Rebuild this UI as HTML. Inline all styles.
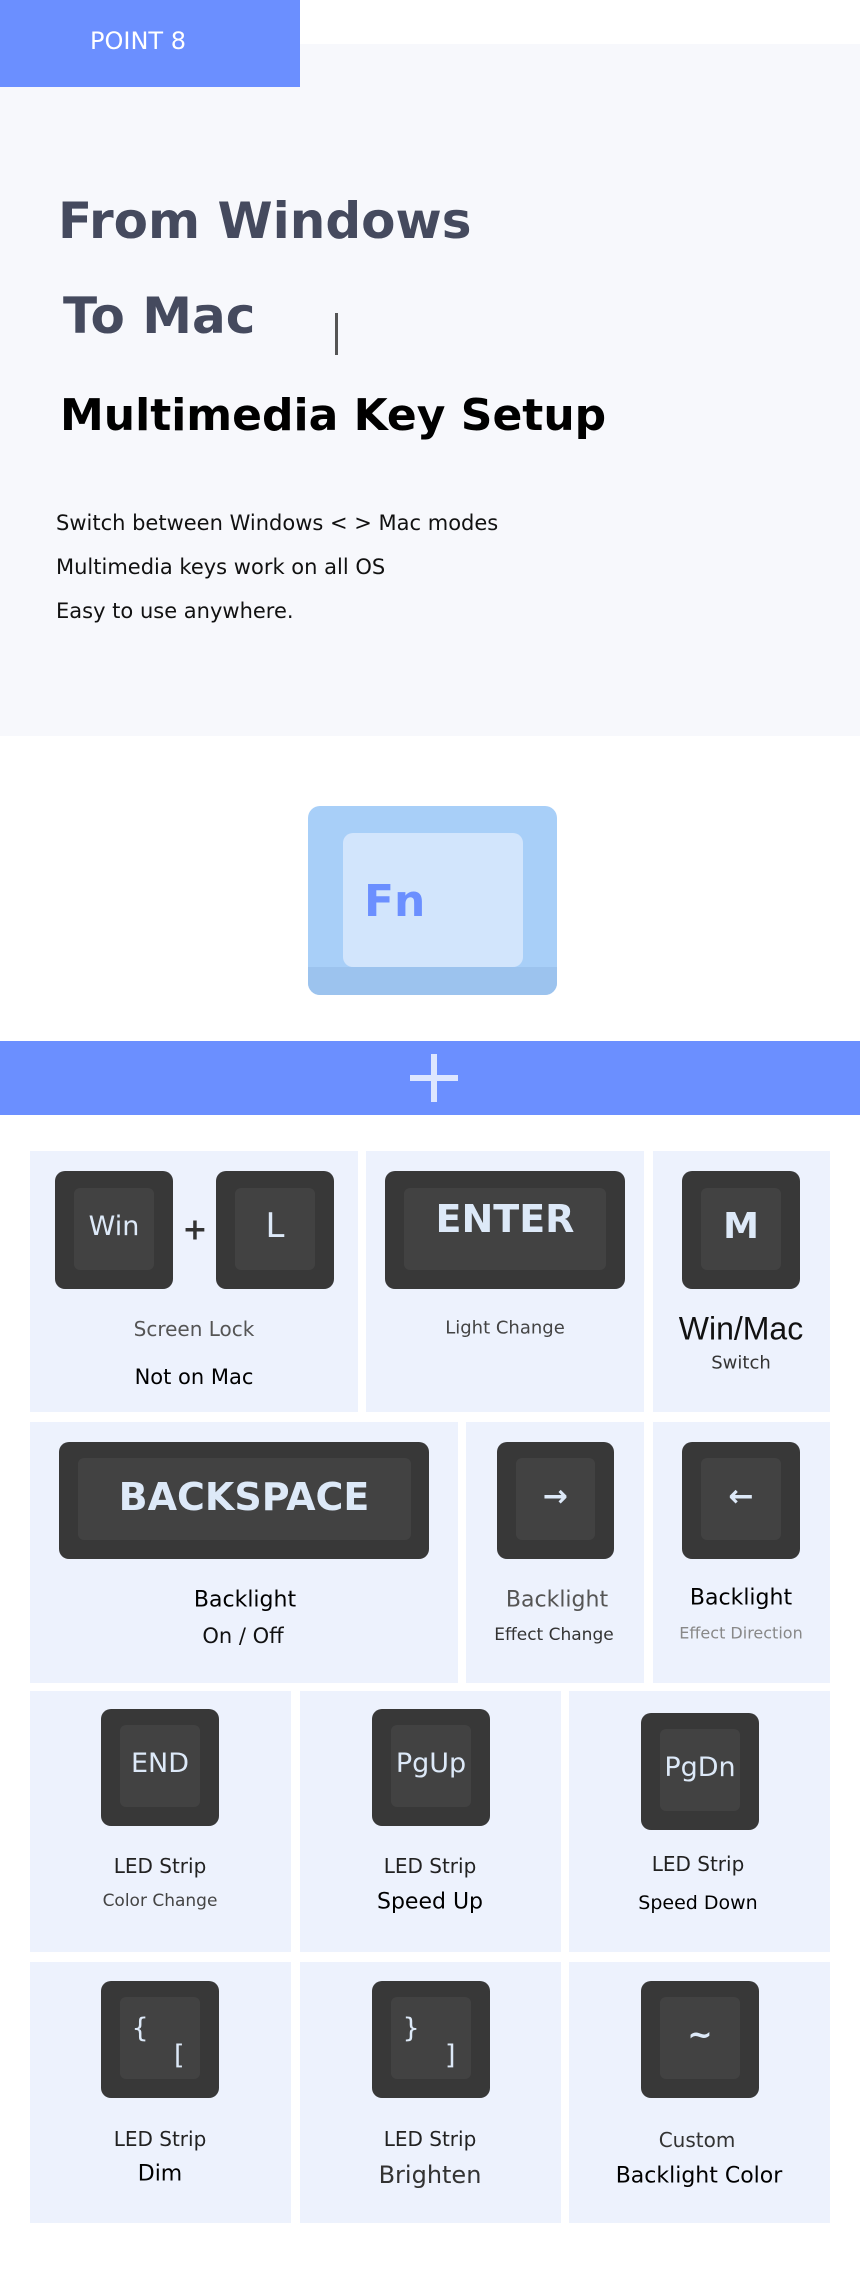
<!DOCTYPE html>
<html><head><meta charset="utf-8"><style>
*{margin:0;padding:0;box-sizing:border-box}
body{width:860px;height:2270px;background:#fff;position:relative;overflow:hidden;font-family:"DejaVu Sans","Liberation Sans",sans-serif}
div{position:absolute}
.p{background:#edf2fd}
.k{background:#383838;border-radius:10px;overflow:hidden}
.k .f{background:#424242;border-radius:6px;left:16%;right:16%;top:14%;bottom:16%;}
.k .l{left:14%;right:14%;top:10%;bottom:16%;display:flex;align-items:center;justify-content:center;color:#dde9f8;font-weight:bold}
.t{transform:translate(-50%,-50%);white-space:nowrap}
</style></head><body>
<div style="left:0;top:44px;width:860px;height:692px;background:#f7f8fc"></div>
<div style="left:0;top:0;width:300px;height:87px;background:#6b8fff"></div>
<div class="t" style="left:138px;top:41px;color:#fff;font-size:24px">POINT 8</div>
<div style="left:58px;top:191px;font-size:50px;font-weight:bold;color:#454a5e;line-height:60px">From Windows</div>
<div style="left:63px;top:286px;font-size:50px;font-weight:bold;color:#454a5e;line-height:60px">To Mac</div>
<div style="left:335px;top:313px;width:3px;height:42px;background:#555"></div>
<div style="left:60px;top:388px;font-size:44px;font-weight:bold;color:#000;line-height:56px">Multimedia Key Setup</div>
<div style="left:56px;top:508px;font-size:21px;color:#111;line-height:30px">Switch between Windows &lt; &gt; Mac modes</div>
<div style="left:56px;top:552px;font-size:21px;color:#111;line-height:30px">Multimedia keys work on all OS</div>
<div style="left:56px;top:596px;font-size:21px;color:#111;line-height:30px">Easy to use anywhere.</div>

<div style="left:308px;top:806px;width:249px;height:189px;background:#a8cff8;border-radius:12px;overflow:hidden">
<div style="left:0;bottom:0;width:249px;height:28px;background:#9cc3ee"></div>
<div style="left:35px;top:27px;width:180px;height:134px;background:#d2e5fc;border-radius:10px"></div>
</div>
<div style="left:364px;top:872px;font-size:44px;font-weight:bold;color:#6b8fff;line-height:60px">Fn</div>

<div style="left:0;top:1041px;width:860px;height:74px;background:#6b8fff"></div>
<div style="left:410px;top:1075px;width:48px;height:6px;background:#dde6ff"></div>
<div style="left:431px;top:1054px;width:6px;height:48px;background:#dde6ff"></div>

<div class="p" style="left:30px;top:1151px;width:328px;height:261px"></div>
<div class="p" style="left:366px;top:1151px;width:278px;height:261px"></div>
<div class="p" style="left:653px;top:1151px;width:177px;height:261px"></div>
<div class="p" style="left:30px;top:1422px;width:428px;height:261px"></div>
<div class="p" style="left:466px;top:1422px;width:178px;height:261px"></div>
<div class="p" style="left:653px;top:1422px;width:177px;height:261px"></div>
<div class="p" style="left:30px;top:1691px;width:261px;height:261px"></div>
<div class="p" style="left:300px;top:1691px;width:261px;height:261px"></div>
<div class="p" style="left:569px;top:1691px;width:261px;height:261px"></div>
<div class="p" style="left:30px;top:1962px;width:261px;height:261px"></div>
<div class="p" style="left:300px;top:1962px;width:261px;height:261px"></div>
<div class="p" style="left:569px;top:1962px;width:261px;height:261px"></div>

<div class="k" style="left:55px;top:1171px;width:118px;height:118px"><div class="f"></div><div class="l" style="font-weight:normal;font-size:27px">Win</div></div>
<div class="t" style="left:195px;top:1230px;font-size:30px;font-weight:bold;color:#333">+</div>
<div class="k" style="left:216px;top:1171px;width:118px;height:118px"><div class="f"></div><div class="l" style="font-size:34px;font-weight:normal">L</div></div>
<div class="k" style="left:385px;top:1171px;width:240px;height:118px"><div class="f" style="left:8%;right:8%"></div><div class="l" style="left:8%;right:8%;font-size:38px;align-items:flex-start;padding-top:14px">ENTER</div></div>
<div class="k" style="left:682px;top:1171px;width:118px;height:118px"><div class="f"></div><div class="l" style="font-size:36px">M</div></div>
<div class="t" style="left:194px;top:1329px;font-size:20px;color:#555">Screen Lock</div>
<div class="t" style="left:194px;top:1377px;font-size:21px;color:#000">Not on Mac</div>
<div class="t" style="left:505px;top:1328px;font-size:18px;color:#444">Light Change</div>
<div class="t" style="left:741px;top:1329px;font-size:32px;color:#111;font-family:'Liberation Sans',sans-serif">Win/Mac</div>
<div class="t" style="left:741px;top:1363px;font-size:18px;color:#333">Switch</div>

<div class="k" style="left:59px;top:1442px;width:370px;height:117px"><div class="f" style="left:5%;right:5%"></div><div class="l" style="left:5%;right:5%;font-size:38px">BACKSPACE</div></div>
<div class="k" style="left:497px;top:1442px;width:117px;height:117px"><div class="f"></div><div class="l" style="font-size:30px">→</div></div>
<div class="k" style="left:682px;top:1442px;width:118px;height:117px"><div class="f"></div><div class="l" style="font-size:30px">←</div></div>
<div class="t" style="left:245px;top:1600px;font-size:22px;color:#000">Backlight</div>
<div class="t" style="left:243px;top:1636px;font-size:21px;color:#111">On / Off</div>
<div class="t" style="left:557px;top:1600px;font-size:22px;color:#555">Backlight</div>
<div class="t" style="left:554px;top:1635px;font-size:17px;color:#333">Effect Change</div>
<div class="t" style="left:741px;top:1598px;font-size:22px;color:#000">Backlight</div>
<div class="t" style="left:741px;top:1633px;font-size:16px;color:#888">Effect Direction</div>

<div class="k" style="left:101px;top:1709px;width:118px;height:117px"><div class="f"></div><div class="l" style="font-weight:normal;font-size:27px">END</div></div>
<div class="k" style="left:372px;top:1709px;width:118px;height:117px"><div class="f"></div><div class="l" style="font-weight:normal;font-size:27px">PgUp</div></div>
<div class="k" style="left:641px;top:1713px;width:118px;height:117px"><div class="f"></div><div class="l" style="font-weight:normal;font-size:27px">PgDn</div></div>
<div class="t" style="left:160px;top:1866px;font-size:20px;color:#222">LED Strip</div>
<div class="t" style="left:160px;top:1901px;font-size:17px;color:#444">Color Change</div>
<div class="t" style="left:430px;top:1866px;font-size:20px;color:#222">LED Strip</div>
<div class="t" style="left:430px;top:1902px;font-size:22px;color:#000">Speed Up</div>
<div class="t" style="left:698px;top:1864px;font-size:20px;color:#222">LED Strip</div>
<div class="t" style="left:698px;top:1903px;font-size:19px;color:#000">Speed Down</div>

<div class="k" style="left:101px;top:1981px;width:118px;height:117px"><div class="f"></div>
<div class="l" style="font-weight:normal;font-size:27px;justify-content:flex-start;align-items:flex-start;padding:20px 0 0 14px">{</div>
<div class="l" style="font-weight:normal;font-size:27px;justify-content:flex-end;align-items:flex-end;padding:0 18px 8px 0">[</div></div>
<div class="k" style="left:372px;top:1981px;width:118px;height:117px"><div class="f"></div>
<div class="l" style="font-weight:normal;font-size:27px;justify-content:flex-start;align-items:flex-start;padding:20px 0 0 14px">}</div>
<div class="l" style="font-weight:normal;font-size:27px;justify-content:flex-end;align-items:flex-end;padding:0 18px 8px 0">]</div></div>
<div class="k" style="left:641px;top:1981px;width:118px;height:117px"><div class="f"></div><div class="l" style="font-size:30px">~</div></div>
<div class="t" style="left:160px;top:2139px;font-size:20px;color:#222">LED Strip</div>
<div class="t" style="left:160px;top:2174px;font-size:22px;color:#000">Dim</div>
<div class="t" style="left:430px;top:2139px;font-size:20px;color:#222">LED Strip</div>
<div class="t" style="left:430px;top:2175px;font-size:24px;color:#333">Brighten</div>
<div class="t" style="left:697px;top:2140px;font-size:20px;color:#333">Custom</div>
<div class="t" style="left:699px;top:2176px;font-size:22px;color:#000">Backlight Color</div>
</body></html>
